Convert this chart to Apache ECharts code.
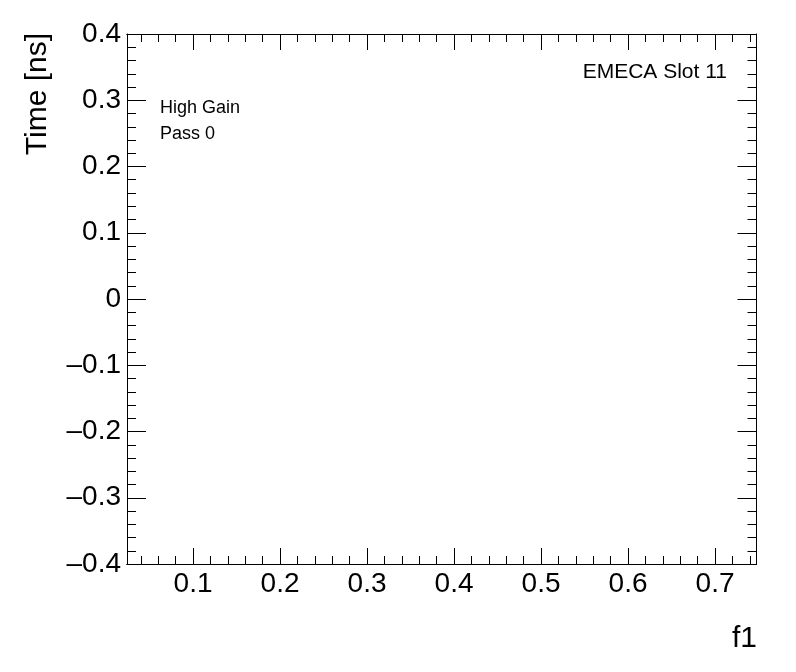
<!DOCTYPE html>
<html>
<head>
<meta charset="utf-8">
<script src="https://cdn.jsdelivr.net/npm/echarts@6/dist/echarts.min.js"></script>
<style>html,body{margin:0;padding:0;background:#fff;}#c{width:796px;height:672px;}</style>
</head>
<body>
<div id="c"></div>
<script>
// Axis ranges and ticks (no data points in this empty frame)
const xRange = [0.0241, 0.7476];
const yRange = [-0.4, 0.4];
const xMajorTicks = [0.1, 0.2, 0.3, 0.4, 0.5, 0.6, 0.7];
const xMinorTicks = [0.04, 0.06, 0.08, 0.12, 0.14, 0.16, 0.18, 0.22, 0.24, 0.26, 0.28,
  0.32, 0.34, 0.36, 0.38, 0.42, 0.44, 0.46, 0.48, 0.52, 0.54, 0.56, 0.58,
  0.62, 0.64, 0.66, 0.68, 0.72, 0.74];
const seriesData = [];
const xTitle = 'f1';
const yTitle = 'Time [ns]';
const labels = ['High Gain', 'Pass 0'];
const rightLabel = 'EMECA Slot 11';

const FONT = 'Liberation Sans, Arial, Helvetica, sans-serif';
const line = { show: true, onZero: false, lineStyle: { color: '#000', width: 1 } };
function xAx(pos, ticks, len, showLabel) {
  return {
    type: 'value', position: pos, min: xRange[0], max: xRange[1],
    axisLine: line, splitLine: { show: false },
    axisTick: { show: true, inside: true, length: len, customValues: ticks, lineStyle: { color: '#000' } },
    axisLabel: showLabel ? { show: true, customValues: ticks, fontSize: 28, color: '#000', fontFamily: FONT, margin: 6,
      formatter: v => v.toFixed(1) } : { show: false }
  };
}
function yAx(pos, showLabel) {
  return {
    type: 'value', position: pos, min: yRange[0], max: yRange[1], interval: 0.1,
    axisLine: line, splitLine: { show: false },
    axisTick: { show: true, inside: true, length: 19, lineStyle: { color: '#000' } },
    minorTick: { show: true, splitNumber: 5, length: 9, lineStyle: { color: '#000' } },
    axisLabel: showLabel ? { show: true, fontSize: 28, color: '#000', fontFamily: FONT, margin: 6, padding: [4, 0, 0, 0],
      formatter: v => { const r = Math.round(v * 10) / 10; if (r === 0) return '0'; return r < 0 ? '\u2013' + (-r).toFixed(1) : r.toFixed(1); } } : { show: false }
  };
}
const chart = echarts.init(document.getElementById('c'), null, { renderer: 'canvas' });
chart.setOption({
  animation: false,
  backgroundColor: '#fff',
  grid: { left: 127, top: 34, right: 39.5, bottom: 108, containLabel: false },
  xAxis: [
    xAx('bottom', xMajorTicks, 16, true),
    xAx('bottom', xMinorTicks, 8, false),
    xAx('top', xMajorTicks, 16, false),
    xAx('top', xMinorTicks, 8, false)
  ],
  yAxis: [yAx('left', true), yAx('right', false)],
  series: [{ type: 'line', data: seriesData, xAxisIndex: 0, yAxisIndex: 0 }],
  graphic: [
    { type: 'text', x: 38, y: 33, rotation: Math.PI / 2,
      style: { text: yTitle, font: '30px ' + FONT, fill: '#000', textAlign: 'right', textVerticalAlign: 'middle' } },
    { type: 'text', x: 757, y: 639,
      style: { text: xTitle, font: '30px ' + FONT, fill: '#000', textAlign: 'right', textVerticalAlign: 'middle' } },
    { type: 'text', x: 160, y: 108,
      style: { text: labels[0], font: '18px ' + FONT, fill: '#000', textAlign: 'left', textVerticalAlign: 'middle' } },
    { type: 'text', x: 160, y: 134,
      style: { text: labels[1], font: '18px ' + FONT, fill: '#000', textAlign: 'left', textVerticalAlign: 'middle' } },
    { type: 'text', x: 727, y: 72,
      style: { text: rightLabel, font: '21px ' + FONT, fill: '#000', textAlign: 'right', textVerticalAlign: 'middle' } }
  ]
});
</script>
</body>
</html>
